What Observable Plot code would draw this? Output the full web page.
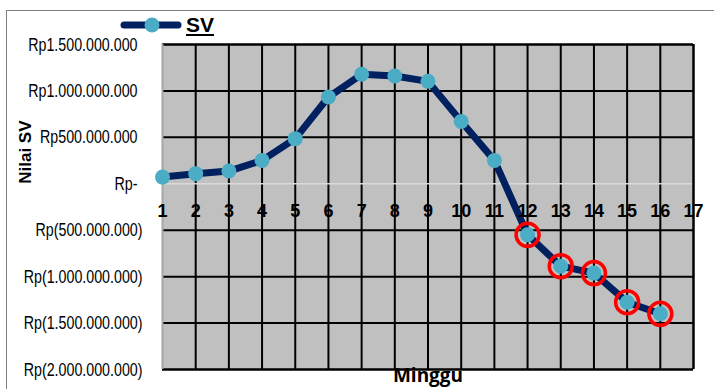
<!DOCTYPE html>
<html>
<head>
<meta charset="utf-8">
<script src="https://cdn.jsdelivr.net/npm/d3@7"></script>
<script src="https://cdn.jsdelivr.net/npm/@observablehq/plot@0.6"></script>
<style>
  body { margin: 0; background: #fff; }
  #wrap { position: relative; width: 714px; height: 389px; overflow: hidden; font-family: "Liberation Sans", Arial, sans-serif; }
  #border { position: absolute; left: 6px; top: 10px; width: 800px; height: 500px;
            border-top: 1.5px solid #7f7f7f; border-left: 1.5px solid #7f7f7f; }
  #chart { position: absolute; left: 0; top: 0; }
  #legend { position: absolute; left: 120px; top: 13px; display: flex; align-items: center; }
  #legend span { font-weight: bold; font-size: 21px; text-decoration: underline; margin-left: 4px; line-height: 24px; }
</style>
</head>
<body>
<div id="wrap">
  <div id="border"></div>
  <div id="chart"></div>
  <div id="legend">
    <svg width="62" height="24"><line x1="4" y1="12" x2="58" y2="12" stroke="#002060" stroke-width="7" stroke-linecap="round"/><circle cx="32" cy="12" r="7.5" fill="#4bacc6"/></svg>
    <span>SV</span>
  </div>
</div>
<script>
// Weekly schedule variance (SV), in rupiah
const weeks = [1, 2, 3, 4, 5, 6, 7, 8, 9, 10, 11, 12, 13, 14, 15, 16];
const sv = [72e6, 109e6, 137e6, 252e6, 486e6, 934e6, 1179e6, 1161e6, 1103e6, 672e6, 252e6,
            -549e6, -887e6, -962e6, -1275e6, -1400e6];
// weeks flagged with a red ring
const flagged = [12, 13, 14, 15, 16];

const xTicks = [1, 2, 3, 4, 5, 6, 7, 8, 9, 10, 11, 12, 13, 14, 15, 16, 17];
const yTicksPos = [1.5e9, 1e9, 5e8, 0];
const yTicksNeg = [-5e8, -1e9, -1.5e9, -2e9];

const data = weeks.map((w, i) => ({week: w, sv: sv[i]}));
const flaggedData = data.filter(d => flagged.includes(d.week));

const grp = n => d3.format(",")(n).replace(/,/g, ".");
const rupiah = v => v === 0 ? "Rp-" : v < 0 ? `Rp(${grp(-v)})` : `Rp${grp(v)}`;

const chart = Plot.plot({
  width: 714,
  height: 389,
  marginLeft: 162,
  marginRight: 21,
  marginTop: 44,
  marginBottom: 20,
  style: {background: "transparent", fontFamily: "Liberation Sans, Arial, sans-serif", color: "#000"},
  x: {domain: [1, 17], axis: null},
  y: {domain: [-2e9, 1.5e9], axis: null},
  marks: [
    Plot.frame({fill: "#c0c0c0", stroke: "none"}),
    Plot.ruleX(xTicks.slice(1, -1), {stroke: "#000", strokeWidth: 2}),
    Plot.ruleY([1e9, 5e8, -5e8, -1e9, -1.5e9], {stroke: "#000", strokeWidth: 2}),
    Plot.ruleY([0], {stroke: "#d9d9d9", strokeWidth: 1.5}),
    Plot.ruleY([1.5e9, -2e9], {stroke: "#000", strokeWidth: 2.5}),
    Plot.ruleX([17], {stroke: "#000", strokeWidth: 2.5}),
    Plot.ruleX([1], {stroke: "#a6a6a6", strokeWidth: 2}),
    Plot.line(data, {x: "week", y: "sv", stroke: "#002060", strokeWidth: 7, strokeLinejoin: "round"}),
    Plot.dot(data, {x: "week", y: "sv", r: 7.5, fill: "#4bacc6"}),
    Plot.dot(flaggedData, {x: "week", y: "sv", r: 11.5, stroke: "#ff0000", strokeWidth: 3.5, fill: "none"}),
    Plot.text(xTicks, {x: d => d, y: d => 0, text: d => String(d), dy: 27, fontSize: 18, fontWeight: "bold", fill: "#000"}),
    Plot.axisY(yTicksPos, {tickSize: 0, tickPadding: 25, tickFormat: rupiah, fontSize: 19, label: null}),
    Plot.axisY(yTicksNeg, {tickSize: 0, tickPadding: 20, tickFormat: rupiah, fontSize: 19, label: null}),
    Plot.text(["Nilai SV"], {y: d => 0, frameAnchor: "left", dx: -137, rotate: -90, fontSize: 17, fontWeight: "bold", fill: "#000"}),
    Plot.text(["Minggu"], {frameAnchor: "bottom", dy: 12, fontSize: 19, fontWeight: "bold", fontFamily: "Open Sans, sans-serif", fill: "#000"})
  ]
});
document.getElementById("chart").appendChild(chart);

// condensed look for the currency tick labels
d3.select(chart).selectAll('g[aria-label="y-axis tick label"] text').each(function () {
  const len = this.getComputedTextLength();
  this.setAttribute("textLength", (len * 0.75).toFixed(1));
  this.setAttribute("lengthAdjust", "spacingAndGlyphs");
});
</script>
</body>
</html>
